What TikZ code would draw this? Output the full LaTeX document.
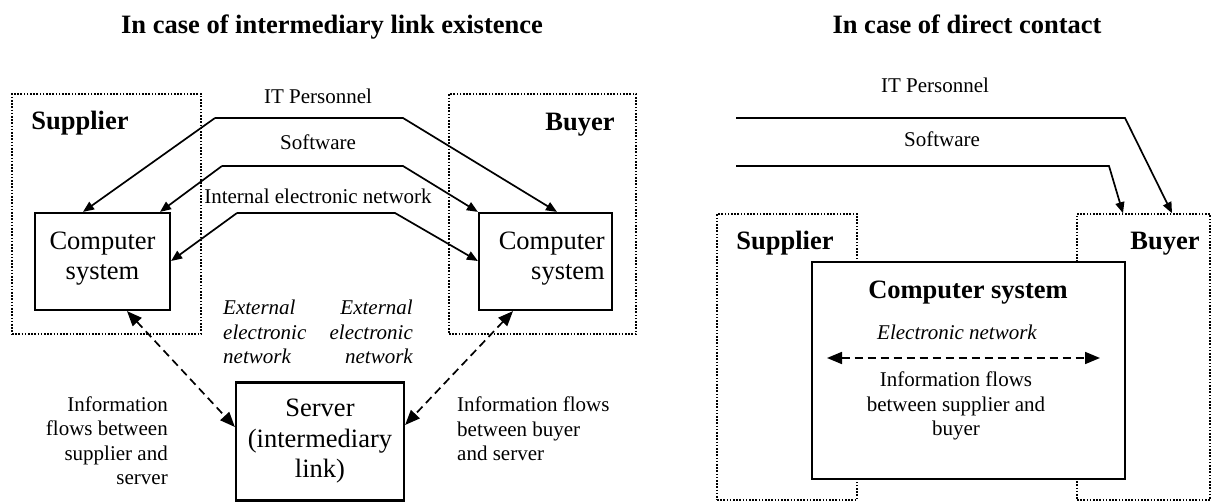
\documentclass[tikz,border=0pt]{standalone}
\usepackage{fontspec}
\setmainfont{Liberation Serif}
\usetikzlibrary{arrows.meta}
\begin{document}
\begin{tikzpicture}[x=1pt,y=-1pt,
  ttl/.style={font=\fontsize{26.5}{31}\selectfont\bfseries, anchor=base, inner sep=0pt},
  role/.style={font=\fontsize{26.5}{31}\selectfont\bfseries, anchor=base, inner sep=0pt},
  lbl/.style={font=\fontsize{21}{24.5}\selectfont, anchor=base, inner sep=0pt},
  itl/.style={font=\fontsize{21}{24.5}\selectfont\itshape, anchor=base, inner sep=0pt},
  bigtxt/.style={font=\fontsize{26.5}{30.5}\selectfont, anchor=base, inner sep=0pt},
  dotbox/.style={draw, line width=1.6pt, dash pattern=on 1.6pt off 1.6pt, inner sep=0pt},
  sysbox/.style={draw, line width=2.2pt, fill=white, inner sep=0pt},
  flow/.style={line width=1.7pt, -{Triangle[length=11pt,width=9pt]}},
  ext/.style={line width=1.7pt, dash pattern=on 8pt off 5pt,
    {Triangle[length=15pt,width=12pt]}-{Triangle[length=15pt,width=12pt]}}
]
\useasboundingbox (0,0) rectangle (1211,502);

% ---------- Left: intermediary link ----------
\node[ttl] (t1) at (332,34) {In case of intermediary link existence};

\node[dotbox, minimum width=189pt, minimum height=240pt] (sd) at (106.5,214) {};
\node[dotbox, minimum width=187pt, minimum height=240pt] (bd) at (542.5,214) {};
\node[role] (sup) at (80,130) {Supplier};
\node[role] (buy) at (580,131) {Buyer};

\node[sysbox, minimum width=135pt, minimum height=97pt] (sc) at (102.5,261.5) {};
\node[sysbox, minimum width=133pt, minimum height=97pt] (bc) at (545.5,261.5) {};
\node[sysbox, minimum width=168pt, minimum height=118pt] (sv) at (320,441.5) {};

% multi-line nodes: the base anchor is the baseline of the last line
\node[bigtxt, align=center] (sct) at (102.5,280) {Computer\\system};
\node[bigtxt, align=right, anchor=base east] (bct) at (605,280) {Computer\\system};
\node[bigtxt, align=center] (svt) at (320,478) {Server\\(intermediary\\link)};

\node[lbl] (itp) at (318,104) {IT Personnel};
\node[lbl] (sw) at (318,150) {Software};
\node[lbl] (ien) at (318,204) {Internal electronic network};

\coordinate (it1) at (215,118);
\coordinate (it2) at (403,118);
\coordinate (sw1) at (222,166);
\coordinate (sw2) at (403,166);
\coordinate (in1) at (237,213);
\coordinate (in2) at (395,213);

\draw[flow] (it1) -- (83,0 |- sc.north);
\draw[flow] (it1) -- (it2) -- (557,0 |- bc.north);
\draw[flow] (sw1) -- (160,0 |- sc.north);
\draw[flow] (sw1) -- (sw2) -- (bc.north west);
\draw[flow] (in1) -- (sc.east |- 0,261);
\draw[flow] (in1) -- (in2) -- (bc.west |- 0,261);

\draw[ext] (127,0 |- sc.south) -- (sv.west |- 0,427);
\draw[ext] (513,0 |- bc.south) -- (sv.east |- 0,425);

\node[itl, align=left, anchor=base west] (ex1) at (223,364) {External\\electronic\\network};
\node[itl, align=right, anchor=base east] (ex2) at (413,364) {External\\electronic\\network};

\node[lbl, align=right, anchor=base east] (if1) at (168,485) {Information\\flows between\\supplier and\\server};
\node[lbl, align=left, anchor=base west] (if2) at (457,461) {Information flows\\between buyer\\and server};

% ---------- Right: direct contact ----------
\node[ttl] (t2) at (967,34) {In case of direct contact};

\node[lbl] (itp2) at (935,93) {IT Personnel};
\node[lbl] (sw2t) at (942,147) {Software};

\node[dotbox, minimum width=140pt, minimum height=286pt] (sd2) at (787,357) {};
\node[dotbox, minimum width=133pt, minimum height=286pt] (bd2) at (1143.5,357) {};
\node[role] (sup2) at (785,250) {Supplier};
\node[role] (buy2) at (1165,250) {Buyer};

\coordinate (rit1) at (736,118);
\coordinate (rit2) at (1125,118);
\coordinate (rsw1) at (736,166);
\coordinate (rsw2) at (1109,166);
\draw[flow] (rit1) -- (rit2) -- (1172,0 |- bd2.north);
\draw[flow] (rsw1) -- (rsw2) -- (1123,0 |- bd2.north);

\node[sysbox, minimum width=313pt, minimum height=217pt] (cs) at (968.5,370.5) {};
\node[role] (cst) at (968,299) {Computer system};
\node[itl] (en) at (957,340) {Electronic network};
\coordinate (en1) at (827,358);
\coordinate (en2) at (1100,358);
\draw[ext] (en1) -- (en2);
\node[lbl, align=center] (if3) at (956,436) {Information flows\\between supplier and\\buyer};

\end{tikzpicture}
\end{document}
